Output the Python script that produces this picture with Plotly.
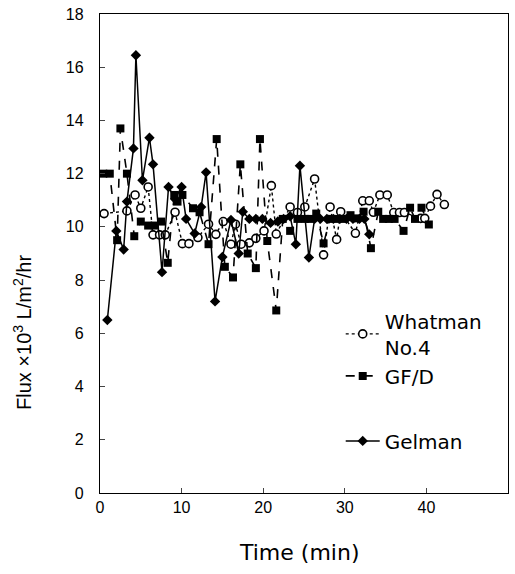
import plotly.graph_objects as go

# Whatman No.4 (open circles, dotted)
whatman_t = [0.5, 3.3, 4.3, 5.0, 5.9, 6.5, 7.3, 8.0, 9.2, 10.1, 10.9, 12.0, 13.3, 14.2, 15.1,
             16.05, 16.6, 17.3, 18.3, 19.1, 20.1, 21.0, 21.6, 23.3, 24.2, 25.1, 26.3, 27.4,
             28.2, 29.0, 29.5, 31.3, 32.2, 33.0, 33.5, 34.3, 35.2, 36.0, 36.7, 37.3, 39.3,
             39.8, 40.5, 41.3, 42.2]
whatman_v = [10.5, 10.6, 11.2, 10.7, 11.5, 9.7, 9.7, 9.7, 10.55, 9.37, 9.37, 9.6, 10.1, 9.72, 10.2,
             9.35, 10.1, 9.35, 9.4, 9.57, 9.85, 11.55, 9.73, 10.75, 10.54, 10.75, 11.8, 8.95,
             10.75, 9.53, 10.57, 9.76, 10.98, 10.98, 10.55, 11.2, 11.2, 10.54, 10.54, 10.54, 10.32,
             10.32, 10.78, 11.22, 10.84]

# GF/D (filled squares, dashed)
gfd_t = [0.4, 1.2, 2.1, 2.5, 3.3, 4.2, 5.0, 5.9, 6.7, 7.5, 8.3, 9.1, 9.5, 10.1, 11.4, 12.2,
         13.3, 14.3, 15.3, 16.3, 17.2, 18.1, 19.1, 19.6, 20.5, 21.6, 22.4, 23.3, 24.2, 25.1,
         25.8, 26.5, 27.4, 28.2, 29.0, 29.8, 30.7, 31.4, 32.3, 33.2, 34.1, 34.7, 35.4, 36.1,
         37.2, 38.0, 38.6, 39.4, 40.3]
gfd_v = [12.0, 12.0, 9.5, 13.7, 12.0, 9.65, 10.2, 10.05, 10.05, 10.2, 8.65, 11.2, 10.95, 11.2, 10.7, 10.55,
         9.35, 13.3, 8.5, 8.1, 12.35, 9.0, 8.45, 13.3, 9.47, 6.86, 10.3, 9.85, 10.3, 10.3,
         10.3, 10.5, 9.38, 10.3, 10.3, 10.3, 10.44, 10.32, 10.57, 9.2, 10.57, 10.3, 10.3, 10.3,
         9.85, 10.72, 10.3, 10.72, 10.09]

# Gelman (filled diamonds, solid)
gelman_t = [0.9, 2.0, 2.9, 3.3, 4.1, 4.4, 5.2, 6.06, 6.5, 7.6, 8.4, 9.2, 10.0, 10.55, 11.6,
            12.4, 13.0, 14.1, 15.0, 16.05, 17.0, 17.5, 18.3, 19.1, 19.9, 20.9, 21.8, 22.5,
            23.3, 24.0, 24.5, 25.6, 26.3, 27.0, 27.8, 28.6, 29.4, 30.2, 31.0, 31.8, 32.4, 33.0]
gelman_v = [6.5, 9.85, 9.15, 10.95, 12.95, 16.45, 11.75, 13.35, 12.35, 8.3, 11.5, 11.05, 11.5, 10.3, 9.75,
            10.75, 12.05, 7.2, 8.87, 10.26, 9.0, 10.57, 10.3, 10.3, 10.3, 10.15, 10.2, 10.3,
            10.4, 9.35, 12.3, 8.85, 10.3, 10.3, 10.3, 10.3, 10.3, 10.3, 10.3, 10.3, 10.3, 9.72]

x_ticks = [0, 10, 20, 30, 40, 50]
y_ticks = [0, 2, 4, 6, 8, 10, 12, 14, 16, 18]

FONT = "Liberation Sans, Arial, sans-serif"
WIDE = "DejaVu Sans, sans-serif"

fig = go.Figure()
fig.add_trace(go.Scatter(
    x=whatman_t, y=whatman_v, mode="lines+markers", name="Whatman<br>No.4",
    line=dict(color="black", width=1.4, dash="dot"),
    marker=dict(symbol="circle", size=8, color="white", line=dict(color="black", width=1.6)),
    legendgroup="a"))
fig.add_trace(go.Scatter(
    x=gfd_t, y=gfd_v, mode="lines+markers", name="GF/D",
    line=dict(color="black", width=1.6, dash="dash"),
    marker=dict(symbol="square", size=8, color="black"),
    legendgroup="a"))
fig.add_trace(go.Scatter(
    x=gelman_t, y=gelman_v, mode="lines+markers", name="Gelman",
    line=dict(color="black", width=1.5),
    marker=dict(symbol="diamond", size=8, color="black"),
    legendgroup="b"))

fig.update_layout(
    width=515, height=574,
    margin=dict(l=100, r=6, t=11, b=81),
    paper_bgcolor="white", plot_bgcolor="white",
    font=dict(family=FONT, color="black", size=16),
    showlegend=True,
    legend=dict(x=0.59, y=0.40, xanchor="left", yanchor="top",
                bgcolor="rgba(0,0,0,0)", font=dict(size=20, family=WIDE),
                tracegroupgap=36, itemwidth=34),
    xaxis=dict(range=[0, 50], tickvals=x_ticks, ticks="inside", ticklen=5,
               showline=True, linecolor="black", linewidth=1.3, mirror=True,
               showgrid=False, zeroline=False, tickfont=dict(size=16)),
    yaxis=dict(range=[0, 18], tickvals=y_ticks, ticks="inside", ticklen=5,
               showline=True, linecolor="black", linewidth=1.3, mirror=True,
               showgrid=False, zeroline=False, tickfont=dict(size=16),
               ticklabelstandoff=12),
    annotations=[
        dict(text="Flux ×10<sup>3</sup> L/m<sup>2</sup>/hr", textangle=-90,
             x=-0.19, y=0.335, xref="paper", yref="paper",
             xanchor="center", yanchor="middle",
             showarrow=False, font=dict(size=20, family=FONT)),
        dict(text="Time (min)", x=0.488, y=-0.124, xref="paper", yref="paper",
             xanchor="center", yanchor="middle",
             showarrow=False, font=dict(size=22, family=WIDE)),
    ],
)

fig.write_html("out.html")
